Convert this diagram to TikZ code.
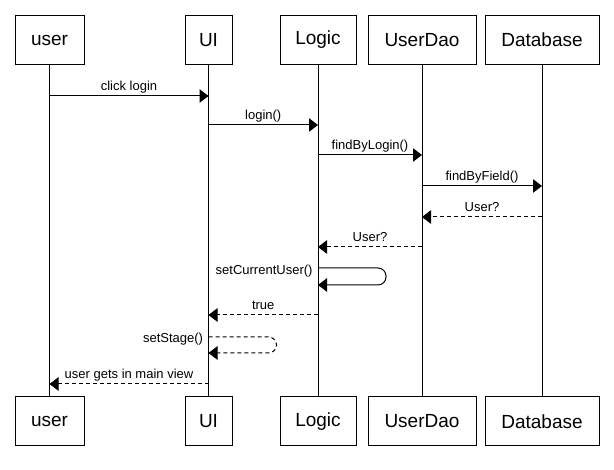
\documentclass[tikz,border=0pt]{standalone}
\usepackage{fontspec}
\setmainfont{Liberation Sans}
\usetikzlibrary{arrows.meta}
\begin{document}
\begin{tikzpicture}[x=1pt,y=-1pt,
  actor/.style={draw, line width=1pt, fill=white, minimum height=49pt, inner sep=0pt,
                font=\fontsize{19}{21}\selectfont},
  life/.style={line width=1pt},
  call/.style={line width=1pt, -{Triangle[length=9pt,width=13.5pt]}},
  reply/.style={call, dash pattern=on 4pt off 3pt},
  lbl/.style={font=\fontsize{13}{15}\selectfont, inner sep=0pt, anchor=base, yshift=5pt},
  side/.style={font=\fontsize{13}{15}\selectfont, inner sep=0pt, anchor=base east, xshift=-5pt}]
\useasboundingbox (0,0) rectangle (614,470);

% participants, top row
\node[actor, minimum width=69pt]  (ut) at (49.5,40) {user};
\node[actor, minimum width=47pt]  (it) at (208.5,40) {UI};
\node[actor, minimum width=76pt]  (lt) at (318,40) {Logic};
\node[actor, minimum width=108pt] (dt) at (422,40) {UserDao};
\node[actor, minimum width=114pt] (bt) at (542,40) {Database};

% participants, bottom row
\node[actor, minimum width=69pt]  (ub) at (49.5,421.5) {user};
\node[actor, minimum width=47pt]  (ib) at (208.5,421.5) {UI};
\node[actor, minimum width=76pt]  (lb) at (318,421.5) {Logic};
\node[actor, minimum width=108pt] (db) at (422,421.5) {UserDao};
\node[actor, minimum width=114pt] (bb) at (542,421.5) {Database};

% lifelines
\draw[life] (ut) -- (ub);
\draw[life] (it) -- (ib);
\draw[life] (lt) -- (lb);
\draw[life] (dt) -- (db);
\draw[life] (bt) -- (bb);

% message rows
\coordinate (r1) at (0,96);
\coordinate (r2) at (0,125);
\coordinate (r3) at (0,155);
\coordinate (r4) at (0,186);
\coordinate (r5) at (0,217);
\coordinate (r6) at (0,247);
\coordinate (r7) at (0,268);
\coordinate (r7b) at (0,285);
\coordinate (r8) at (0,315);
\coordinate (r9) at (0,337);
\coordinate (r9b) at (0,353);
\coordinate (r10) at (0,384);

% messages
\draw[call] (ut |- r1) -- node[lbl] {click login} (it |- r1);
\draw[call] (it |- r2) -- node[lbl] {login()} (lt |- r2);
\draw[call] (lt |- r3) -- node[lbl] {findByLogin()} (dt |- r3);
\draw[call] (dt |- r4) -- node[lbl] {findByField()} (bt |- r4);
\draw[reply] (bt |- r5) -- node[lbl] {User?} (dt |- r5);
\draw[reply] (dt |- r6) -- node[lbl] {User?} (lt |- r6);
\draw[call, rounded corners=8pt] (lt |- r7) node[side, yshift=-7pt] {setCurrentUser()}
  -- ++(68,0) -- ++(0,17) -- (lt |- r7b);
\draw[reply] (lt |- r8) -- node[lbl] {true} (it |- r8);
\draw[reply, rounded corners=8pt] (it |- r9) node[side, yshift=-6pt] {setStage()}
  -- ++(68,0) -- ++(0,16) -- (it |- r9b);
\draw[reply] (it |- r10) -- node[lbl] {user gets in main view} (ut |- r10);
\end{tikzpicture}
\end{document}
